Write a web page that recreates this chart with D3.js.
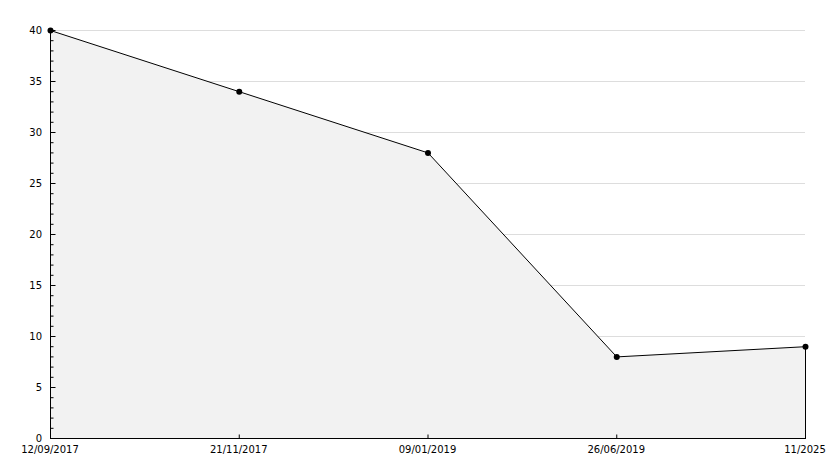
<!DOCTYPE html>
<html>
<head>
<meta charset="utf-8">
<script src="https://cdn.jsdelivr.net/npm/d3@7"></script>
<style>
  body { margin: 0; background: #fff; }
  text { font-family: "DejaVu Sans", sans-serif; font-size: 10px; fill: #000; }
</style>
</head>
<body>
<script>
var dates = ["12/09/2017", "21/11/2017", "09/01/2019", "26/06/2019", "11/2025"];
var values = [40, 34, 28, 8, 9];
var yTicks = [0, 5, 10, 15, 20, 25, 30, 35, 40];

var w = 834, h = 468;
var plotLeft = 50, plotRight = 805, plotTop = 30, plotBottom = 438;

var svg = d3.select("body").append("svg")
    .attr("width", w)
    .attr("height", h);

var x = d3.scalePoint()
    .domain(d3.range(dates.length))
    .range([plotLeft, plotRight]);

var y = d3.scaleLinear()
    .domain([0, 40])
    .range([plotBottom, plotTop]);

// grid lines
svg.append("g").selectAll("line")
    .data(yTicks.filter(d => d > 0))
    .enter().append("line")
    .attr("x1", plotLeft).attr("x2", plotRight)
    .attr("y1", d => y(d) + 0.5).attr("y2", d => y(d) + 0.5)
    .style("stroke", "#dddddd")
    .style("shape-rendering", "crispEdges");

// area
var area = d3.area()
    .x((d, i) => x(i) + 0.5)
    .y0(y(0) + 0.5)
    .y1(d => y(d) + 0.5);

svg.append("path")
    .datum(values)
    .attr("d", area)
    .style("fill", "#f2f2f2")
    .style("stroke", "#000")
    .style("stroke-width", 1);

// y axis with minor ticks
var minor = d3.axisRight(y).tickValues(d3.range(0, 41, 1)).tickSize(3).tickFormat("");
svg.append("g")
    .attr("transform", "translate(" + (plotLeft + 0.5) + ",0)")
    .call(minor)
    .call(g => g.select(".domain").remove());

var yAxis = d3.axisRight(y).tickValues(yTicks).tickSize(5).tickFormat("");
svg.append("g")
    .attr("transform", "translate(" + (plotLeft + 0.5) + ",0)")
    .call(yAxis)
    .call(g => g.select(".domain").attr("d", "M0," + plotTop + "V" + (plotBottom + 0.5)));

svg.append("g").selectAll("text")
    .data(yTicks)
    .enter().append("text")
    .attr("x", plotLeft - 8)
    .attr("y", d => y(d) + 4)
    .attr("text-anchor", "end")
    .text(d => d);

// x axis
var xAxis = d3.axisTop(x).tickSize(4).tickFormat("");
svg.append("g")
    .attr("transform", "translate(0," + (plotBottom + 0.5) + ")")
    .call(xAxis)
    .call(g => g.select(".domain").attr("d", "M" + plotLeft + ",0H" + (plotRight + 1)));

svg.append("g").selectAll("text")
    .data(dates)
    .enter().append("text")
    .attr("x", (d, i) => x(i))
    .attr("y", plotBottom + 15)
    .attr("text-anchor", "middle")
    .text(d => d);

// markers
svg.append("g").selectAll("circle")
    .data(values)
    .enter().append("circle")
    .attr("cx", (d, i) => x(i) + 0.5)
    .attr("cy", d => y(d) + 0.5)
    .attr("r", 3)
    .style("fill", "#000");
</script>
</body>
</html>
